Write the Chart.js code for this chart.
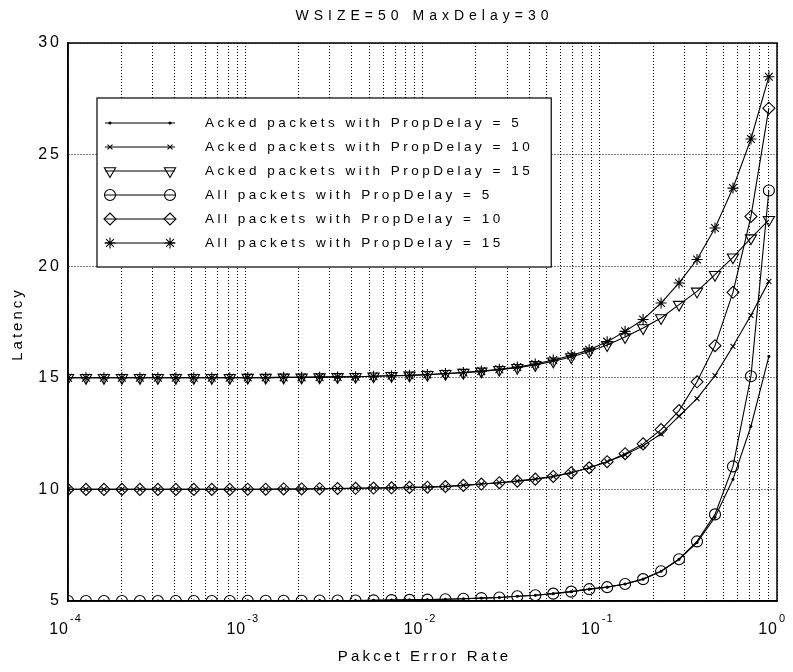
<!DOCTYPE html>
<html><head><meta charset="utf-8">
<script src="https://cdn.jsdelivr.net/npm/chart.js@4.4.0/dist/chart.umd.min.js"></script>
<style>html,body{margin:0;padding:0;background:#fff;}#wrap{width:793px;height:672px;}</style>
</head><body><div id="wrap"><canvas id="c" width="793" height="672"></canvas></div>
<script>
const errorRates = [1.000e-4,1.263e-4,1.595e-4,2.015e-4,2.545e-4,3.214e-4,4.059e-4,5.127e-4,6.475e-4,8.178e-4,
  1.033e-3,1.304e-3,1.647e-3,2.080e-3,2.627e-3,3.318e-3,4.191e-3,5.294e-3,6.686e-3,8.444e-3,
  1.066e-2,1.347e-2,1.701e-2,2.148e-2,2.713e-2,3.427e-2,4.328e-2,5.466e-2,6.904e-2,8.720e-2,
  0.1101,0.1390,0.1756,0.2218,0.2801,0.3538,0.4469,0.5644,0.7128,0.9000];
const ackedDelay5 = [5.00,5.00,5.00,5.00,5.00,5.00,5.00,5.00,5.00,5.00,
  5.01,5.01,5.01,5.01,5.02,5.02,5.02,5.03,5.04,5.05,
  5.06,5.08,5.10,5.13,5.16,5.21,5.26,5.33,5.42,5.53,
  5.62,5.76,5.98,6.33,6.87,7.62,8.75,10.45,12.83,15.96];
const ackedDelay10 = [10.00,10.00,10.00,10.00,10.00,10.00,10.00,10.00,10.00,10.00,
  10.01,10.01,10.02,10.02,10.03,10.04,10.05,10.06,10.07,10.09,
  10.10,10.13,10.18,10.24,10.30,10.37,10.46,10.58,10.75,10.97,
  11.24,11.55,11.95,12.49,13.28,14.07,15.10,16.41,17.80,19.32];
const ackedDelay15 = [15.00,15.00,15.00,15.00,15.00,15.00,15.00,15.00,15.00,15.00,
  15.01,15.01,15.02,15.02,15.03,15.04,15.05,15.07,15.09,15.11,
  15.14,15.18,15.23,15.29,15.36,15.45,15.58,15.74,15.93,16.18,
  16.47,16.83,17.23,17.68,18.28,18.87,19.62,20.40,21.26,22.08];
const allDelay5 = [5.00,5.00,5.00,5.00,5.00,5.00,5.00,5.00,5.00,5.00,
  5.01,5.01,5.01,5.01,5.02,5.02,5.02,5.03,5.04,5.05,
  5.06,5.08,5.10,5.13,5.16,5.21,5.26,5.33,5.42,5.53,
  5.62,5.76,5.98,6.33,6.87,7.67,8.88,11.03,15.07,23.39];
const allDelay10 = [10.00,10.00,10.00,10.00,10.00,10.00,10.00,10.00,10.00,10.00,
  10.01,10.01,10.02,10.02,10.03,10.04,10.05,10.06,10.07,10.09,
  10.10,10.13,10.18,10.24,10.30,10.37,10.46,10.58,10.75,10.97,
  11.24,11.60,12.04,12.68,13.53,14.82,16.44,18.83,22.23,27.08];
const allDelay15 = [15.00,15.00,15.00,15.00,15.00,15.00,15.00,15.00,15.00,15.00,
  15.01,15.01,15.02,15.02,15.03,15.04,15.05,15.07,15.09,15.11,
  15.15,15.19,15.24,15.30,15.38,15.48,15.62,15.80,16.00,16.26,
  16.62,17.08,17.61,18.35,19.25,20.30,21.71,23.50,25.70,28.49];
const seriesLabels = ['Acked packets with PropDelay = 5','Acked packets with PropDelay = 10','Acked packets with PropDelay = 15',
  'All packets with PropDelay = 5','All packets with PropDelay = 10','All packets with PropDelay = 15'];
const xGridValues = [1e-4,2e-4,3e-4,4e-4,5e-4,6e-4,7e-4,8e-4,9e-4,
  1e-3,2e-3,3e-3,4e-3,5e-3,6e-3,7e-3,8e-3,9e-3,
  1e-2,2e-2,3e-2,4e-2,5e-2,6e-2,7e-2,8e-2,9e-2,
  1e-1,2e-1,3e-1,4e-1,5e-1,6e-1,7e-1,8e-1,9e-1,1];
const xMajorTicks = [1e-4,1e-3,1e-2,1e-1,1];
const xTickExponents = ['-4','-3','-2','-1','0'];
const yTicks = [5,10,15,20,25,30];
const titleText = 'WSIZE=50 MaxDelay=30';
const xTitle = 'Pakcet Error Rate';
const yTitle = 'Latency';

const FONT = '"Liberation Sans", Arial, sans-serif';
const series = [ackedDelay5, ackedDelay10, ackedDelay15, allDelay5, allDelay10, allDelay15];
const styles = [
  {pointStyle:'circle', radius:1, fill:'#000', rotation:0},
  {pointStyle:'crossRot', radius:3.5, fill:'rgba(0,0,0,0)', rotation:0},
  {pointStyle:'triangle', radius:6.5, fill:'rgba(0,0,0,0)', rotation:180},
  {pointStyle:'circle', radius:5.5, fill:'rgba(0,0,0,0)', rotation:0},
  {pointStyle:'rectRot', radius:6, fill:'rgba(0,0,0,0)', rotation:0},
  {pointStyle:'star', radius:5.5, fill:'rgba(0,0,0,0)', rotation:0}
];
const datasets = series.map((vals, k) => ({
  label: seriesLabels[k],
  data: errorRates.map((x, i) => ({x: x, y: vals[i]})),
  borderColor: '#000', borderWidth: 1.1, tension: 0, fill: false,
  pointStyle: styles[k].pointStyle, pointRadius: styles[k].radius, pointRotation: styles[k].rotation,
  pointBorderColor: '#000', pointBackgroundColor: styles[k].fill, pointBorderWidth: 1.1,
  pointHoverRadius: styles[k].radius
}));

function txt(ctx, s, x, y, size, spacing, align, base) {
  ctx.font = size + 'px ' + FONT;
  ctx.letterSpacing = spacing + 'px';
  ctx.textAlign = align || 'left';
  ctx.textBaseline = base || 'middle';
  ctx.fillText(s, x, y);
}

const decoPlugin = {
  id: 'deco',
  afterDraw(chart) {
    const {ctx, chartArea: a} = chart;
    const xs = chart.scales.x, ys = chart.scales.y;
    ctx.save();
    ctx.setLineDash([]);
    ctx.strokeStyle = '#000'; ctx.lineWidth = 1.5;
    ctx.strokeRect(a.left, a.top, a.right - a.left, a.bottom - a.top);
    ctx.fillStyle = '#000';
    txt(ctx, titleText, (a.left + a.right) / 2 + 2, 16, 14, 5, 'center');
    yTicks.forEach(v => txt(ctx, String(v), a.left - 6, ys.getPixelForValue(v), 16, 3, 'right'));
    xMajorTicks.forEach((v, i) => {
      const px = xs.getPixelForValue(v);
      txt(ctx, '10', px + 1, a.bottom + 29, 16, 1, 'right');
      txt(ctx, xTickExponents[i], px + 2, a.bottom + 18, 11, 1, 'left');
    });
    txt(ctx, xTitle, (a.left + a.right) / 2 + 2, 657, 15, 3.2, 'center');
    ctx.save();
    ctx.translate(18, (a.top + a.bottom) / 2 + 2);
    ctx.rotate(-Math.PI / 2);
    txt(ctx, yTitle, 0, 0, 15, 3, 'center');
    ctx.restore();
    // legend
    ctx.font = '13.5px ' + FONT; ctx.letterSpacing = '3.5px';
    let maxW = 0;
    chart.data.datasets.forEach(ds => { maxW = Math.max(maxW, ctx.measureText(ds.label).width); });
    const lx = 97, ly = 98, lw = (205 + maxW + 18) - lx, lh = 169;
    ctx.fillStyle = '#fff';
    ctx.fillRect(lx, ly, lw, lh);
    ctx.strokeStyle = '#000'; ctx.lineWidth = 1.2;
    ctx.strokeRect(lx, ly, lw, lh);
    chart.data.datasets.forEach((ds, k) => {
      const cy = ly + 25 + k * 24;
      ctx.beginPath(); ctx.moveTo(105, cy); ctx.lineTo(175, cy);
      ctx.strokeStyle = '#000'; ctx.lineWidth = 1.1; ctx.stroke();
      [110, 170].forEach(mx => {
        ctx.save();
        ctx.strokeStyle = '#000'; ctx.fillStyle = ds.pointBackgroundColor; ctx.lineWidth = 1.1;
        Chart.helpers.drawPoint(ctx, {pointStyle: ds.pointStyle, radius: ds.pointRadius, rotation: ds.pointRotation, borderWidth: 1.1}, mx, cy);
        ctx.restore();
      });
      ctx.fillStyle = '#000';
      txt(ctx, ds.label, 205, cy, 13.5, 3.5, 'left');
    });
    ctx.restore();
  }
};

new Chart(document.getElementById('c'), {
  type: 'line',
  data: { datasets },
  plugins: [decoPlugin],
  options: {
    responsive: false, animation: false,
    layout: { padding: { left: 68, right: 16, top: 43, bottom: 71 } },
    plugins: { legend: { display: false }, tooltip: { enabled: false }, title: { display: false } },
    scales: {
      x: {
        type: 'logarithmic', min: 1e-4, max: 1,
        afterBuildTicks(s) { s.ticks = xGridValues.map(v => ({ value: v, major: false })); },
        ticks: { display: false },
        grid: { color: '#000', lineWidth: 1, drawTicks: false },
        border: { display: true, color: '#000', width: 1.5, dash: [1, 2] }
      },
      y: {
        min: yTicks[0], max: yTicks[yTicks.length - 1],
        afterBuildTicks(s) { s.ticks = yTicks.map(v => ({ value: v })); },
        ticks: { display: false },
        grid: { color: '#000', lineWidth: 1, drawTicks: false },
        border: { display: true, color: '#000', width: 1.5, dash: [1, 2] }
      }
    }
  }
});
</script></body></html>
